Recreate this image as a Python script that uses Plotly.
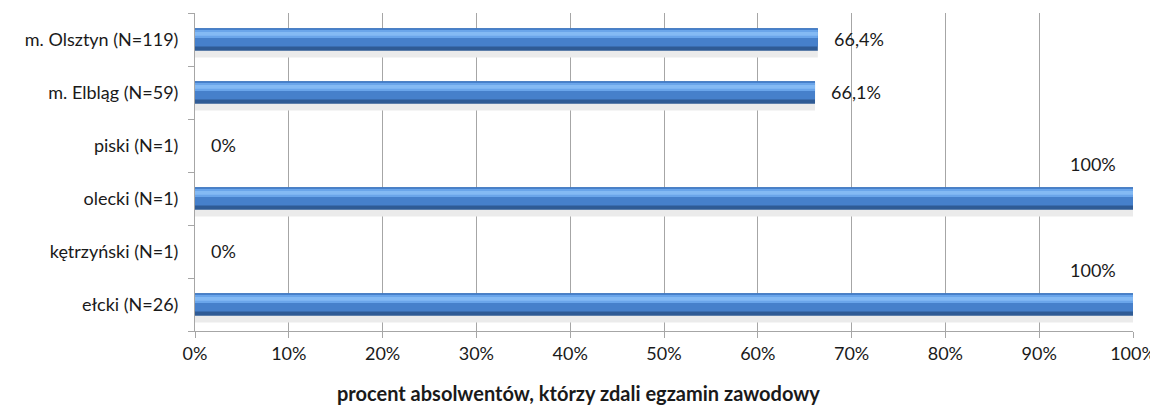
import plotly.graph_objects as go

categories = ["ełcki (N=26)", "kętrzyński (N=1)", "olecki (N=1)", "piski (N=1)",
              "m. Elbląg (N=59)", "m. Olsztyn (N=119)"]
values = [100, 0, 100, 0, 66.1, 66.4]
value_labels = ["100%", "0%", "100%", "0%", "66,1%", "66,4%"]
x_ticks = list(range(0, 101, 10))
x_tick_labels = [f"{t}%" for t in x_ticks]
x_title = "procent absolwentów, którzy zdali egzamin zawodowy"

FONT = "Lato, Open Sans, sans-serif"
GRID = "#a6a6a6"
TXT = "#1a1a1a"

fig = go.Figure()
# layers that build the tubular 3D bar look (drawn from the same data)
layers = [
    dict(offset=-0.34, width=0.14, color="#ebebeb"),   # soft shadow below
    dict(offset=-0.21, width=0.42, color="#2f5b95"),   # dark body / bottom edge
    dict(offset=-0.13, width=0.34, color="#4680cb"),   # main blue
    dict(offset=0.03, width=0.15, color="#6aa5ea"),    # light band
    dict(offset=0.07, width=0.07, color="#84baf4"),    # highlight
]
for L in layers:
    fig.add_trace(go.Bar(
        y=categories, x=values, orientation="h",
        width=L["width"], offset=L["offset"],
        marker=dict(color=L["color"], line=dict(width=0)),
        hoverinfo="skip", showlegend=False))

annotations = []
for cat, v, lab in zip(categories, values, value_labels):
    if v >= 100:
        annotations.append(dict(x=v, y=cat, xref="x", yref="y", text=lab,
                                showarrow=False, xanchor="right", yanchor="middle",
                                xshift=-15, yshift=35,
                                font=dict(family=FONT, size=18, color=TXT)))
    else:
        annotations.append(dict(x=v, y=cat, xref="x", yref="y", text=lab,
                                showarrow=False, xanchor="left", yanchor="middle",
                                xshift=14, yshift=1,
                                font=dict(family=FONT, size=18, color=TXT)))

# axis title, centred on the whole figure like the original
annotations.append(dict(x=0.409, y=0, xref="paper", yref="paper", yanchor="middle",
                        xanchor="center", yshift=-62, text=f"<b>{x_title}</b>",
                        showarrow=False, font=dict(family=FONT, size=20, color=TXT)))

# the page body has an 8px margin, so the figure is sized/offset to compensate
fig.update_layout(
    width=1150, height=398,
    margin=dict(l=187, r=25, t=5, b=75),
    paper_bgcolor="white", plot_bgcolor="white",
    barmode="overlay",
    font=dict(family=FONT, size=18, color=TXT),
    annotations=annotations,
    xaxis=dict(range=[0, 100], tickvals=x_ticks, ticktext=x_tick_labels,
               showgrid=True, gridcolor=GRID, gridwidth=1,
               showline=True, linecolor=GRID, linewidth=1,
               ticks="outside", ticklen=6, tickcolor=GRID,
               zeroline=False, fixedrange=True, automargin=False),
    yaxis=dict(categoryorder="array", categoryarray=categories,
               showgrid=False, showline=True, linecolor=GRID, linewidth=1,
               ticks="outside", ticklen=6, tickcolor=GRID, tickson="boundaries",
               ticklabelstandoff=12, zeroline=False, fixedrange=True, automargin=False),
)

fig.write_html("out.html")
